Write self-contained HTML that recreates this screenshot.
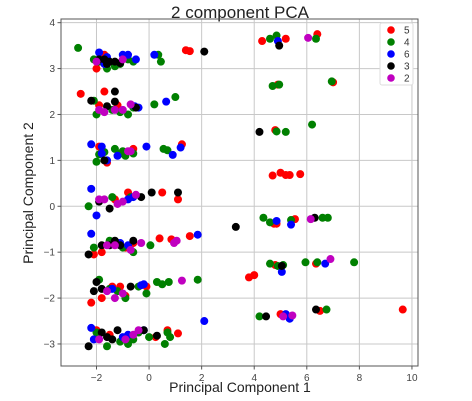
<!DOCTYPE html>
<html><head><meta charset="utf-8"><style>
body{margin:0;background:#fff;}
svg{display:block;font-family:"Liberation Sans","DejaVu Sans",sans-serif;}
</style></head><body>
<svg id="chart" width="472" height="401">
<text x="240" y="18" text-anchor="middle" font-size="17" fill="#222">2 component PCA</text>
<g id="grid"></g>
<g id="pts"></g>
<rect x="61" y="19" width="357" height="347" fill="none" stroke="#555" stroke-width="1"/>
<g id="ticks"></g>
<text x="240" y="392" text-anchor="middle" font-size="14" fill="#222">Principal Component 1</text>
<text transform="translate(33,193) rotate(-90)" text-anchor="middle" font-size="14" fill="#222">Principal Component 2</text>
<g id="legend"></g>
</svg>
<script>
const xTicks=[-2,0,2,4,6,8,10];
const yTicks=[-3,-2,-1,0,1,2,3,4];
const targets=['5','4','6','3','2'];
const colors=['red','green','blue','black','#c000c0'];
const red=[[-2.0,3.0],[-1.7,3.3],[1.4,3.4],[1.55,3.38],[4.3,3.6],[5.2,3.65],[6.4,3.75],[4.9,2.65],[7.0,2.7],[-2.6,2.45],[-1.7,2.5],[-1.9,2.2],[-1.2,2.2],[4.8,1.66],[4.7,0.67],[5.0,0.73],[5.2,0.68],[5.35,0.68],[5.75,0.7],[-1.9,1.3],[-1.6,0.95],[-0.6,1.25],[1.25,1.35],[-0.8,0.3],[0.5,0.3],[1.1,0.15],[-1.3,0.15],[-2.1,-1.05],[-1.8,-1.0],[-0.9,-0.9],[0.4,-0.7],[0.85,-0.72],[1.55,-0.65],[-0.6,-0.8],[4.75,-0.38],[4.85,-0.38],[5.55,-0.28],[-2.2,-2.1],[-1.8,-2.0],[-1.4,-1.75],[-1.1,-1.75],[-0.9,-1.95],[-0.1,-1.75],[3.8,-1.55],[4.0,-1.5],[4.8,-1.28],[6.35,-1.25],[-2.0,-2.7],[-1.5,-2.8],[0.7,-2.7],[1.1,-2.77],[0.25,-2.85],[5.0,-2.35],[6.5,-2.28],[9.65,-2.25]];
const green=[[-2.7,3.45],[-2.1,3.2],[-1.9,3.15],[-1.6,3.0],[-1.3,3.05],[-0.8,3.2],[-0.6,3.15],[0.35,3.3],[0.45,3.15],[-1.1,3.1],[4.6,3.65],[4.85,3.72],[6.35,3.65],[4.7,2.62],[4.95,2.65],[6.95,2.72],[4.85,1.63],[5.2,1.62],[6.2,1.78],[-2.1,2.3],[-2.0,2.0],[-1.1,2.05],[-0.8,2.0],[-0.6,2.15],[0.2,2.22],[1.0,2.38],[-1.4,2.1],[-1.9,1.13],[-1.7,1.18],[-2.0,0.97],[-1.3,1.25],[-1.0,1.2],[-0.9,1.1],[-0.6,1.15],[0.55,1.25],[0.7,1.22],[-1.1,1.15],[-1.4,0.2],[-0.7,0.2],[-2.3,0.0],[-2.1,-0.9],[-1.5,-0.75],[-1.2,-0.8],[-0.6,-1.0],[0.05,-0.85],[-1.0,-0.9],[4.35,-0.25],[4.6,-0.35],[5.4,-0.3],[6.6,-0.25],[6.8,-0.25],[-1.9,-1.6],[-1.5,-1.8],[-1.2,-1.85],[-0.9,-2.0],[-0.4,-1.75],[-0.1,-1.9],[0.3,-1.65],[0.5,-1.7],[0.75,-1.65],[1.85,-1.6],[4.6,-1.25],[4.9,-1.3],[5.1,-1.28],[5.95,-1.22],[6.4,-1.22],[7.8,-1.22],[-2.0,-2.75],[-1.6,-3.05],[-1.1,-2.95],[-0.8,-3.0],[-0.6,-2.9],[0.0,-2.85],[0.7,-2.75],[0.8,-2.85],[0.6,-3.0],[-0.4,-2.75],[4.2,-2.4],[6.75,-2.25]];
const blue=[[-1.9,3.35],[-1.6,3.25],[-1.0,3.3],[-0.8,3.3],[-0.5,3.2],[0.2,3.3],[-1.7,3.1],[4.9,3.6],[-0.55,2.18],[-0.4,2.15],[0.65,2.28],[-2.2,1.35],[-1.8,1.3],[-1.8,1.15],[-1.6,1.0],[-1.2,1.1],[-0.1,1.3],[0.9,1.12],[1.2,1.28],[-2.2,0.38],[-2.0,-0.2],[-0.8,0.15],[-0.6,0.2],[-2.2,-0.6],[1.85,-0.62],[-1.1,-0.8],[-0.8,-0.85],[4.85,-0.32],[5.4,-0.4],[-1.4,-1.8],[-0.2,-1.7],[-0.3,-1.72],[5.05,-1.43],[6.7,-1.25],[-2.2,-2.65],[-2.1,-2.9],[-1.0,-2.85],[-0.8,-2.8],[-0.2,-2.7],[2.1,-2.5],[5.2,-2.35],[5.35,-2.45]];
const black=[[-1.7,3.2],[-1.5,3.15],[-1.3,3.15],[-1.1,3.12],[2.1,3.37],[-1.9,3.2],[-1.6,3.1],[4.95,3.5],[-2.2,2.3],[-1.3,2.5],[-1.3,2.28],[-1.6,2.18],[-0.5,2.15],[4.2,1.62],[-1.7,1.0],[0.1,0.3],[1.1,0.3],[-0.3,0.2],[-1.9,0.1],[-1.5,-0.05],[-2.3,-1.05],[-1.8,-0.85],[-1.3,-0.75],[-1.5,-0.85],[-0.6,-0.75],[-1.1,-0.85],[3.3,-0.45],[6.3,-0.25],[-2.0,-1.65],[-2.1,-1.85],[-1.8,-1.8],[-0.7,-1.75],[5.05,-1.3],[-2.3,-3.05],[-1.8,-2.75],[-1.6,-2.85],[-1.2,-2.7],[-1.4,-2.9],[-0.2,-2.7],[0.3,-2.82],[4.45,-2.4],[6.35,-2.25]];
const magenta=[[-2.0,3.15],[-1.0,3.2],[6.05,3.67],[-1.9,2.1],[-1.3,2.1],[-1.0,2.1],[-0.7,2.22],[-1.7,2.05],[-0.8,1.2],[-0.7,1.2],[-1.7,0.15],[-0.5,0.25],[-1.9,0.15],[-1.0,0.1],[-1.2,0.05],[-1.6,-0.85],[-1.3,-0.85],[-0.3,-0.8],[-0.7,-0.95],[0.95,-0.8],[1.05,-0.75],[6.15,-0.28],[-1.6,-1.85],[-1.3,-2.0],[-1.0,-1.9],[1.25,-1.62],[6.9,-1.15],[-1.9,-2.9],[-0.6,-2.8],[-0.4,-2.7],[-0.9,-2.9],[5.1,-2.4],[5.45,-2.38]];
const series=[red,green,blue,black,magenta];
const NS='http://www.w3.org/2000/svg';
const L=61,R=418,T=19,B=366,xmin=-3.35,xmax=10.23,ymin=-3.48,ymax=4.08;
function sx(v){return L+(v-xmin)/(xmax-xmin)*(R-L);}
function sy(v){return B-(v-ymin)/(ymax-ymin)*(B-T);}
function mk(tag,attrs,parent){const e=document.createElementNS(NS,tag);for(const k in attrs)e.setAttribute(k,attrs[k]);parent.appendChild(e);return e;}
const grid=document.getElementById('grid'),ticks=document.getElementById('ticks');
xTicks.forEach(t=>{const x=sx(t);
 const g=mk('line',{x1:x,x2:x,y1:T,y2:B,stroke:'#c8c8c8','stroke-width':1},grid);
 
 
 const tk=mk('line',{x1:x,x2:x,y1:B,y2:B+3.5,stroke:'#555'},ticks);
 
 
 const tx=mk('text',{x:x,y:B+15,'text-anchor':'middle','font-size':10,fill:'#444'},ticks);
 tx.textContent=t<0?'\u2212'+(-t):String(t);
 
 
});
yTicks.forEach(t=>{const y=sy(t);
 const g=mk('line',{x1:L,x2:R,y1:y,y2:y,stroke:'#c8c8c8','stroke-width':1},grid);
 
 
 const tk=mk('line',{x1:L-3.5,x2:L,y1:y,y2:y,stroke:'#555'},ticks);
 
 
 const tx=mk('text',{x:L-6,y:y+3.5,'text-anchor':'end','font-size':10,fill:'#444'},ticks);
 tx.textContent=t<0?'\u2212'+(-t):String(t);
 
 
});
const pts=document.getElementById('pts');
series.forEach((s,i)=>{s.forEach(p=>{
 const c=mk('circle',{cx:sx(p[0]),cy:sy(p[1]),r:4,fill:colors[i]},pts);
 
 
});});
const lg=document.getElementById('legend');
const box=mk('rect',{x:380,y:23,width:33,height:62,fill:'#fff',stroke:'#ddd',rx:2},lg);


targets.forEach((t,i)=>{const y=30+i*12;
 const c=mk('circle',{cx:391,cy:y,r:3.8,fill:colors[i]},lg);
 
 
 const tx=mk('text',{x:404,y:y+3.5,'font-size':10,fill:'#333'},lg);
 tx.textContent=t;
 
 
});
</script>
</body></html>
